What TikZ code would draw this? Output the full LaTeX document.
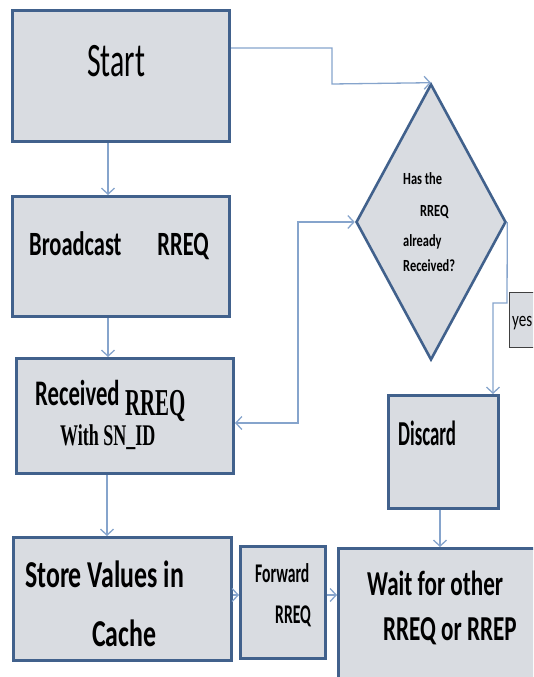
\documentclass[tikz,border=0pt]{standalone}
\usepackage{fontspec}
\usetikzlibrary{arrows.meta,calc,positioning,shapes.geometric}
\newfontfamily\carlito{Carlito}
\newfontfamily\libserif{Liberation Serif}
\newcommand{\calbold}[2]{\carlito\bfseries\fontsize{#1}{#1}\selectfont\addfontfeatures{FakeStretch=#2}}
\newcommand{\calplain}[2]{\carlito\fontsize{#1}{#1}\selectfont\addfontfeatures{FakeStretch=#2}}
\newcommand{\timesbold}[2]{\libserif\bfseries\fontsize{#1}{#1}\selectfont\addfontfeatures{FakeStretch=#2}}
\definecolor{BoxFill}{HTML}{D9DCE1}
\definecolor{BoxLine}{HTML}{41618C}
\definecolor{LinkBlue}{HTML}{86A4CC}
\definecolor{TagLine}{HTML}{404040}
\tikzset{
  stepbox/.style={
    rectangle, draw=BoxLine, line width=3pt, fill=BoxFill, inner sep=0pt
  },
  decision/.style={
    diamond, draw=BoxLine, line width=2.6pt, fill=BoxFill, inner sep=0pt
  },
  tag/.style={
    rectangle, draw=TagLine, line width=1pt, fill=BoxFill, inner sep=0pt
  },
  lbl/.style={inner sep=0pt, anchor=base west},
  link/.style={-{Straight Barb[length=6pt,width=13pt]}, line width=1.3pt, draw=LinkBlue},
  twolink/.style={{Straight Barb[length=6pt,width=13pt]}-{Straight Barb[length=6pt,width=13pt]},
    line width=1.3pt, draw=LinkBlue}
}

\begin{document}
\begin{tikzpicture}[x=1pt,y=-1pt]
    \useasboundingbox (0,0) rectangle (533,677);
    \clip (0,0) rectangle (533,677);
    % boxes
    \node[stepbox,minimum width=217,minimum height=131] (start) at (121,76) {};
    \node[stepbox,minimum width=217,minimum height=120] (broadcast) at (121,256.5) {};
    \node[stepbox,minimum width=217,minimum height=115] (received) at (125,416) {};
    \node[stepbox,minimum width=218,minimum height=123] (store) at (122.5,599) {};
    \node[stepbox,minimum width=85,minimum height=112] (forward) at (283,602.5) {};
    \node[stepbox,minimum width=205,minimum height=140] (wait) at (441,618.5) {};
    \node[stepbox,minimum width=110,minimum height=113] (discard) at (443.5,452) {};
    \node[decision,minimum width=150,minimum height=276] (check) at (431,222) {};
    \node[tag,minimum width=51,minimum height=55] (yes) at (534.5,319.5) {};
    % texts
    \node[lbl,font=\calplain{48}{0.62}] (startText) at (87,77) {Start};
    \node[lbl,font=\calbold{34}{0.66}] (broadcastText) at (29,255) {Broadcast\hspace{36pt}RREQ};
    \node[lbl,font=\calbold{36}{0.63}] (receivedA) at (35,405) {Received};
    \node[lbl,font=\timesbold{38}{0.55}] (receivedB) at (125,415) {RREQ};
    \node[lbl,font=\timesbold{30}{0.6}] (receivedC) at (60,445) {With SN\_ID};
    \node[lbl,font=\calbold{38}{0.68}] (storeA) at (25,587) {Store Values in};
    \node[lbl,font=\calbold{38}{0.68}] (storeB) at (92,646) {Cache};
    \node[lbl,font=\calbold{27}{0.58}] (forwardA) at (255,582) {Forward};
    \node[lbl,font=\calbold{27}{0.58}] (forwardB) at (275,623) {RREQ};
    \node[lbl,font=\calbold{35}{0.66}] (waitA) at (367,595) {Wait for other};
    \node[lbl,font=\calbold{35}{0.66}] (waitB) at (383,640) {RREQ or RREP};
    \node[lbl,font=\calbold{35}{0.54}] (discardText) at (398,445) {Discard};
    \node[lbl,font=\calbold{17}{0.73}] (checkA) at (403,184) {Has the};
    \node[lbl,font=\calbold{17}{0.73}] (checkB) at (420,216) {RREQ};
    \node[lbl,font=\calbold{17}{0.73}] (checkC) at (403,246) {already};
    \node[lbl,font=\calbold{17}{0.73}] (checkD) at (403,271) {Received?};
    \node[lbl,font=\calplain{21}{0.72}] (yesText) at (512,326) {yes};
    % bends
    \coordinate (jogA) at (332,84);
    \coordinate (jogB) at (298,222);
    \coordinate (jogC) at (507,303);
    \coordinate (jogD) at (493,303);
    % connectors
    \draw[link] ([xshift=-13pt]start.south) -- ([xshift=-13pt]broadcast.north);
    \draw[link] ([xshift=-13pt]broadcast.south) -- ([xshift=-17pt]received.north);
    \draw[link] ([xshift=-18pt]received.south) -- ([xshift=-15.5pt]store.north);
    \draw[link] ([yshift=4pt]store.east) -- ([yshift=7.5pt]forward.west);
    \draw[link] ([yshift=7.5pt]forward.west -| forward.east) -- ([yshift=23.5pt]wait.west);
    \draw[link] ([xshift=-3.5pt]discard.south) -- ([xshift=-1pt]wait.north);
    \draw[link] ([yshift=28pt]start.east) -| (jogA) -- (check.north);
    \draw[twolink] ([yshift=-7pt]received.east) -| (jogB) -- (check.west);
    \draw[link] (check.east) -- (jogC) -- (jogD) -- (jogD |- discard.north);
\end{tikzpicture}
\end{document}
